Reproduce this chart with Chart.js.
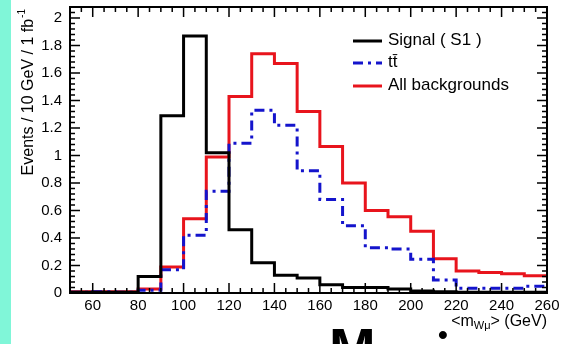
<!DOCTYPE html>
<html>
<head>
<meta charset="utf-8">
<script src="https://cdn.jsdelivr.net/npm/chart.js@4/dist/chart.umd.min.js"></script>
<style>
  html, body { margin: 0; padding: 0; background: #fff; overflow: hidden; }
  #wrap { position: relative; width: 571px; height: 344px; overflow: hidden; }
  #strip { position: absolute; left: 0; top: 0; width: 11px; height: 344px; background: #80f6d8; }
  #c { position: absolute; left: 0; top: 0; }
  .big { position: absolute; font-family: "Liberation Sans", Arial, sans-serif; font-weight: bold; color: #000; line-height: 1; }
</style>
</head>
<body>
<div id="wrap">
  <div id="strip"></div>
  <canvas id="c" width="571" height="344"></canvas>
  <div class="big" style="left:329px; top:320px; font-size:56px;">M</div>
  <div class="big" style="left:438px; top:321px; font-size:28px;">•</div>
</div>
<script>
// bin edges in GeV (10 GeV bins)
const binEdges = [50, 60, 70, 80, 90, 100, 110, 120, 130, 140, 150, 160, 170, 180, 190, 200, 210, 220, 230, 240, 250, 260];

const signalS1 = [0.005, 0.005, 0.005, 0.12, 1.29, 1.87, 1.02, 0.46, 0.22, 0.13, 0.11, 0.06, 0.04, 0.04, 0.03, 0.015, 0.01, 0.005, 0.005, 0.005, 0.005];
const ttbar = [0.005, 0.01, 0.005, 0.02, 0.17, 0.42, 0.74, 1.09, 1.33, 1.22, 0.89, 0.68, 0.49, 0.33, 0.32, 0.245, 0.095, 0.035, 0.035, 0.035, 0.05];
const allBkg = [0.01, 0.01, 0.01, 0.03, 0.19, 0.54, 0.99, 1.43, 1.74, 1.67, 1.32, 1.065, 0.80, 0.60, 0.555, 0.45, 0.25, 0.16, 0.15, 0.14, 0.125];

const xTicks = [60, 80, 100, 120, 140, 160, 180, 200, 220, 240, 260];
const yTicks = [0, 0.2, 0.4, 0.6, 0.8, 1, 1.2, 1.4, 1.6, 1.8, 2];
const yTickLabels = ['0', '0.2', '0.4', '0.6', '0.8', '1', '1.2', '1.4', '1.6', '1.8', '2'];

const legendNames = ['Signal ( S1 )', 'tt\u0304', 'All backgrounds'];

const FONT = '"Liberation Sans", Arial, Helvetica, sans-serif';

// histogram -> step points (last edge repeats last value)
function toSteps(vals) {
    const pts = vals.map((v, i) => ({ x: binEdges[i], y: v }));
    pts.push({ x: binEdges[binEdges.length - 1], y: vals[vals.length - 1] });
    return pts;
}

// frame + inward ticks, ROOT style
const frame = {
    id: 'frame',
    afterDatasetsDraw(chart) {
        const { ctx, chartArea: a, scales } = chart;
        const xs = scales.x, ys = scales.y;
        ctx.save();
        ctx.strokeStyle = '#000';
        ctx.lineWidth = 1.5;
        ctx.beginPath();
        for (let v = 50; v <= 260; v += 5) {
            const px = xs.getPixelForValue(v);
            const len = (v % 20 === 0) ? 10 : 5;
            ctx.moveTo(px, a.bottom); ctx.lineTo(px, a.bottom - len);
            ctx.moveTo(px, a.top); ctx.lineTo(px, a.top + len);
        }
        for (let i = 0; i <= 52; i++) {
            const v = i * 0.04;
            const py = ys.getPixelForValue(v);
            const len = (i % 5 === 0) ? 10 : 5;
            ctx.moveTo(a.left, py); ctx.lineTo(a.left + len, py);
            ctx.moveTo(a.right, py); ctx.lineTo(a.right - len, py);
        }
        ctx.stroke();
        ctx.lineWidth = 2;
        ctx.strokeRect(a.left, a.top, a.right - a.left, a.bottom - a.top);

        // legend
        const rows = [41, 63, 86];
        chart.data.datasets.forEach((ds, i) => {
            ctx.beginPath();
            ctx.strokeStyle = ds.borderColor;
            ctx.lineWidth = ds.borderWidth;
            ctx.setLineDash(ds.borderDash || []);
            ctx.moveTo(353, rows[i]); ctx.lineTo(382, rows[i]);
            ctx.stroke();
            ctx.setLineDash([]);
            ctx.fillStyle = '#000';
            ctx.font = '17px ' + FONT;
            ctx.textBaseline = 'middle';
            ctx.textAlign = 'left';
            ctx.fillText(legendNames[i], 388, rows[i] - 1);
        });

        // x title: <m_{Wmu}> (GeV), right aligned
        ctx.textBaseline = 'alphabetic';
        ctx.textAlign = 'left';
        const big = '16px ' + FONT, small = '11px ' + FONT;
        ctx.font = big; const w1 = ctx.measureText('<m').width; const w3 = ctx.measureText('> (GeV)').width;
        ctx.font = small; const w2 = ctx.measureText('W\u03bc').width;
        let x0 = a.right - (w1 + w2 + w3);
        const yb = 326;
        ctx.font = big; ctx.fillText('<m', x0, yb);
        ctx.font = small; ctx.fillText('W\u03bc', x0 + w1, yb + 3);
        ctx.font = big; ctx.fillText('> (GeV)', x0 + w1 + w2, yb);

        // y title, rotated, aligned to top
        const t1 = 'Events / 10 GeV / 1 fb', t2 = '-1';
        ctx.font = '16px ' + FONT; const tw1 = ctx.measureText(t1).width;
        ctx.font = '10px ' + FONT; const tw2 = ctx.measureText(t2).width;
        ctx.translate(33, 10 + tw1 + tw2);
        ctx.rotate(-Math.PI / 2);
        ctx.font = '16px ' + FONT; ctx.fillText(t1, 0, 0);
        ctx.font = '10px ' + FONT; ctx.fillText(t2, tw1 + 1, -8);
        ctx.restore();
    }
};

new Chart(document.getElementById('c'), {
    type: 'line',
    data: {
        datasets: [
            { label: legendNames[0], data: toSteps(signalS1), borderColor: '#000000', borderWidth: 3 },
            { label: legendNames[1], data: toSteps(ttbar), borderColor: '#1414cc', borderWidth: 3, borderDash: [10, 5, 3, 5] },
            { label: legendNames[2], data: toSteps(allBkg), borderColor: '#e8141c', borderWidth: 3 }
        ].map(d => Object.assign(d, { stepped: 'before', pointRadius: 0, fill: false, tension: 0 }))
    },
    options: {
        responsive: false,
        animation: false,
        layout: { padding: { left: 0, top: 7, right: 24, bottom: 0 } },
        plugins: { legend: { display: false }, tooltip: { enabled: false } },
        scales: {
            x: {
                type: 'linear', min: 50, max: 260,
                grid: { display: false, drawTicks: false },
                border: { display: false },
                afterBuildTicks: s => { s.ticks = xTicks.map(v => ({ value: v })); },
                afterFit: s => { s.height = 51; s.paddingLeft = 0; s.paddingRight = 0; },
                ticks: { color: '#000', font: { family: FONT, size: 15 }, padding: 4, maxRotation: 0 }
            },
            y: {
                type: 'linear', min: 0, max: 2.08,
                grid: { display: false, drawTicks: false },
                border: { display: false },
                afterBuildTicks: s => { s.ticks = yTicks.map(v => ({ value: v })); },
                afterFit: s => { s.width = 70; s.paddingTop = 0; s.paddingBottom = 0; },
                ticks: {
                    color: '#000', font: { family: FONT, size: 15 }, padding: 8,
                    callback: (v, i) => yTickLabels[i]
                }
            }
        }
    },
    plugins: [frame]
});
</script>
</body>
</html>
